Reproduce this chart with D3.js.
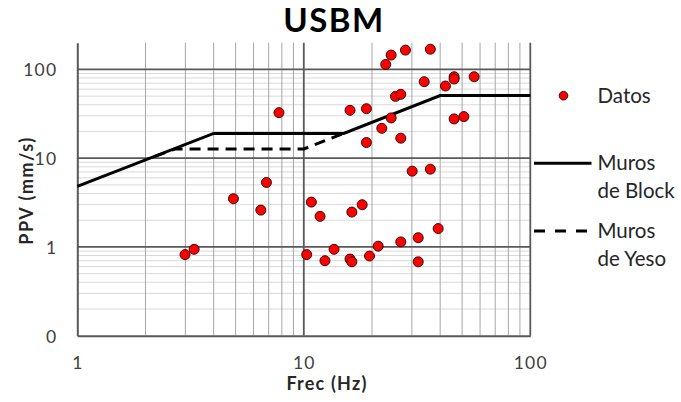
<!DOCTYPE html>
<html>
<head>
<meta charset="utf-8">
<script src="https://cdn.jsdelivr.net/npm/d3@7"></script>
<style>
  html, body { margin: 0; padding: 0; background: #fff; }
  svg { display: block; font-family: Lato, "Open Sans", sans-serif; }
</style>
</head>
<body>
<svg id="chart" width="681" height="402"></svg>
<script>
// Measured blast vibrations: frequency (Hz) and peak particle velocity (mm/s)
const freq = [2.99, 3.28, 4.89, 6.46, 6.84, 7.77, 10.3, 10.8, 11.8, 12.4, 13.6, 16.0, 16.0, 16.3,
  16.3, 18.1, 18.9, 18.9, 19.5, 21.3, 22.1, 23.0, 24.3, 24.3, 25.4, 26.8, 26.8, 26.8, 28.1, 30.1,
  32.0, 32.0, 34.0, 36.2, 36.2, 39.2, 42.2, 46.1, 46.1, 46.1, 50.9, 56.5];
const ppv = [0.82, 0.94, 3.49, 2.60, 5.33, 32.6, 0.82, 3.2, 2.21, 0.70, 0.94, 34.6, 0.73, 0.68,
  2.47, 2.99, 36.1, 15.0, 0.79, 1.02, 21.7, 113.8, 145, 28.4, 49.7, 52.4, 16.8, 1.14, 165, 7.14,
  1.27, 0.68, 72.7, 169, 7.52, 1.61, 65.0, 82.7, 77.9, 27.7, 29.4, 82.7];

// USBM RI 8507 limit curves
const blockFreq = [1, 4, 15, 40, 100];
const blockPpv = [4.8, 19, 19, 50.8, 50.8];
const yesoFreq = [2.2, 2.7, 10, 15];
const yesoPpv = [10.5, 12.7, 12.7, 19];

// Axis ticks
const xTickValues = [1, 10, 100];
const xTickLabels = ["1", "10", "100"];
const yTickValues = [0.1, 1, 10, 100];
const yTickLabels = ["0", "1", "10", "100"];

const legendLabels = [["Datos"], ["Muros", "de Block"], ["Muros", "de Yeso"]];

const svg = d3.select("#chart");
const plotL = 77.3, plotR = 530.3, plotT = 42.7, plotB = 335.7;

const x = d3.scaleLog().domain([1, 100]).range([plotL, plotR]);
const y = d3.scaleLog().domain([0.1, 200]).range([plotB, plotT]);

// Minor grid values within each decade
const minorX = [];
[1, 10].forEach(d => { for (let k = 2; k <= 9; k++) minorX.push(d * k); });
const minorY = [];
[0.1, 1, 10].forEach(d => { for (let k = 2; k <= 9; k++) minorY.push(d * k); });

const grid = svg.append("g");
grid.selectAll("line.hminor").data(minorY).join("line")
  .attr("x1", plotL).attr("x2", plotR)
  .attr("y1", d => y(d)).attr("y2", d => y(d))
  .attr("stroke", "#d9d9d9").attr("stroke-width", 1);
grid.selectAll("line.vminor").data(minorX).join("line")
  .attr("x1", d => x(d)).attr("x2", d => x(d))
  .attr("y1", plotT).attr("y2", plotB)
  .attr("stroke", "#a6a6a6").attr("stroke-width", 1);
grid.selectAll("line.hmajor").data([1, 10, 100]).join("line")
  .attr("x1", plotL).attr("x2", plotR)
  .attr("y1", d => y(d)).attr("y2", d => y(d))
  .attr("stroke", "#595959").attr("stroke-width", 1.8);
grid.selectAll("line.vmajor").data([10, 100]).join("line")
  .attr("x1", d => x(d)).attr("x2", d => x(d))
  .attr("y1", plotT).attr("y2", plotB)
  .attr("stroke", "#595959").attr("stroke-width", 1.8);

// Axes (ticks hidden, only lines and labels)
const xAxis = d3.axisBottom(x).tickValues(xTickValues)
  .tickFormat((d, i) => xTickLabels[i]).tickSize(0).tickPadding(22);
const yAxis = d3.axisLeft(y).tickValues(yTickValues)
  .tickFormat((d, i) => yTickLabels[i]).tickSize(0).tickPadding(20);

const gx = svg.append("g").attr("transform", `translate(0,${plotB})`).call(xAxis);
const gy = svg.append("g").attr("transform", `translate(${plotL},0)`).call(yAxis);
[gx, gy].forEach(g => {
  g.select(".domain").attr("stroke", "#595959").attr("stroke-width", 2);
  g.selectAll("text").attr("font-family", "Lato, sans-serif").attr("font-size", 17.5)
    .attr("fill", "#404040").attr("letter-spacing", 1.2);
});
gx.selectAll("text").attr("dy", "0.66em");
gy.selectAll("text").attr("dy", "0.36em");

// Limit curves
const line = d3.line().x(d => x(d[0])).y(d => y(d[1]));
svg.append("path")
  .datum(blockFreq.map((f, i) => [f, blockPpv[i]]))
  .attr("d", line).attr("fill", "none").attr("stroke", "#000")
  .attr("stroke-width", 3);
svg.append("path")
  .datum(yesoFreq.map((f, i) => [f, yesoPpv[i]]))
  .attr("d", line).attr("fill", "none").attr("stroke", "#000")
  .attr("stroke-width", 3).attr("stroke-dasharray", "11,7");

// Data points
svg.append("g").selectAll("circle").data(freq.map((f, i) => [f, ppv[i]])).join("circle")
  .attr("cx", d => x(d[0])).attr("cy", d => y(d[1])).attr("r", 5)
  .attr("fill", "#ff0000").attr("stroke", "#3a0a0a").attr("stroke-width", 1);

// Titles
svg.append("text").attr("x", 334).attr("y", 32).attr("text-anchor", "middle")
  .attr("font-size", 33).attr("font-weight", 700).attr("letter-spacing", 1.5)
  .attr("fill", "#000").text("USBM");
svg.append("text").attr("x", 327).attr("y", 390).attr("text-anchor", "middle")
  .attr("font-size", 18).attr("font-weight", 700).attr("letter-spacing", 1.2)
  .attr("fill", "#262626").text("Frec (Hz)");
svg.append("text").attr("transform", "translate(33,190.5) rotate(-90)")
  .attr("text-anchor", "middle")
  .attr("font-size", 18).attr("font-weight", 700).attr("letter-spacing", 1.5)
  .attr("fill", "#262626").text("PPV (mm/s)");

// Legend
const lg = svg.append("g");
lg.append("circle").attr("cx", 563.5).attr("cy", 95.7).attr("r", 4.3)
  .attr("fill", "#ff0000").attr("stroke", "#3a0a0a").attr("stroke-width", 1);
lg.append("line").attr("x1", 534).attr("x2", 591.5).attr("y1", 163.3).attr("y2", 163.3)
  .attr("stroke", "#000").attr("stroke-width", 3);
lg.append("line").attr("x1", 534).attr("x2", 591.5).attr("y1", 231).attr("y2", 231)
  .attr("stroke", "#000").attr("stroke-width", 3).attr("stroke-dasharray", "11,10");
const baselines = [[102.7], [170, 198.3], [237.7, 265.5]];
legendLabels.forEach((lines, i) => {
  lines.forEach((t, j) => {
    lg.append("text").attr("x", 597.5).attr("y", baselines[i][j])
      .attr("font-size", 20.5).attr("fill", "#262626").text(t);
  });
});
</script>
</body>
</html>
